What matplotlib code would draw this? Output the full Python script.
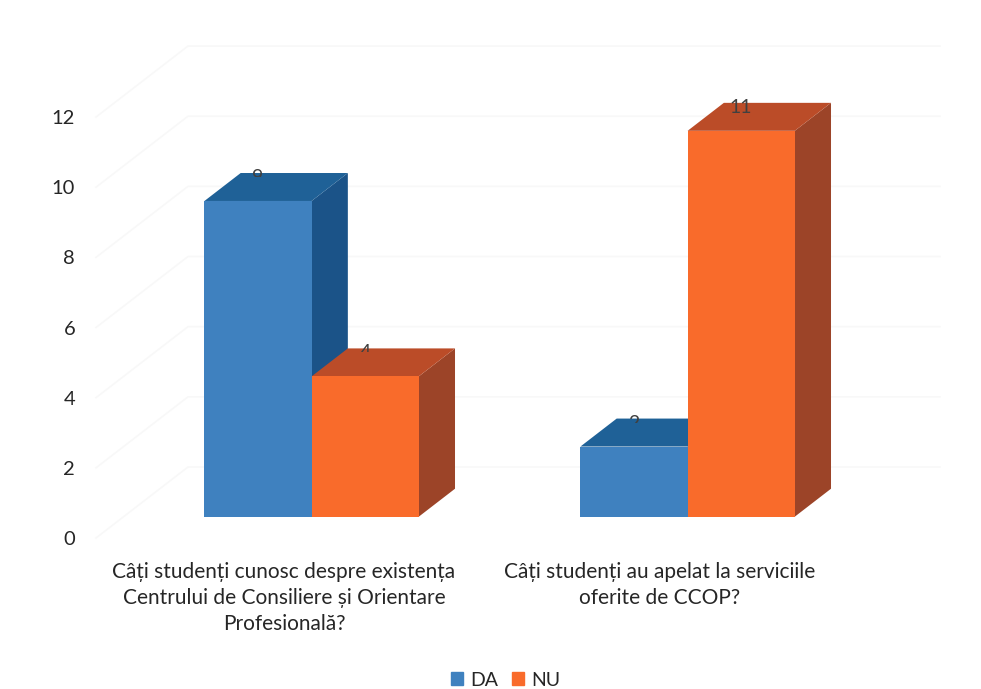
import matplotlib as mpl
mpl.use('Agg')
import matplotlib.pyplot as plt
from matplotlib.patches import Patch
from matplotlib.transforms import Bbox

categories = ['Câți studenți cunosc despre existența\nCentrului de Consiliere și Orientare\nProfesională?',
              'Câți studenți au apelat la serviciile\noferite de CCOP?']
da_values = [9, 2]
nu_values = [4, 11]
y_ticks = [0, 2, 4, 6, 8, 10, 12]

# front, top, side shades
da_colors = ['#3F81BF', '#1F6197', '#1B5388']
nu_colors = ['#F96B2B', '#BB4C28', '#9C4428']

W, H = 981, 689
plt.rcParams['font.family'] = ['Lato', 'DejaVu Sans']
text_color = '#262626'

fig = plt.figure(figsize=(W / 100, H / 100), dpi=100)
# axes box: front plane floor at pixel y 538, right end of back wall at x 940
ax = fig.add_axes([96 / W, (H - 538) / H, 844 / W, 493 / H])
ax.set_xlim(-0.5, -0.5 + 844 / 376)
ax.set_ylim(0, 493 / 35.08)
ax.patch.set_alpha(0)
for s in ax.spines.values():
    s.set_visible(False)

# oblique depth of the floor, in data units
DEPTH_X = 92 / 376
DEPTH_Y = 71 / 35.08
BAR_NEAR = 0.30
BAR_FAR = 0.694
BAR_W = 0.285
grid_color = '#f8f8f8'


def proj(x, y, d):
    return x + d * DEPTH_X, y + d * DEPTH_Y


def box(x0, x1, v, colors):
    # side, then top, then front so that later bars cover earlier ones
    corners = [proj(x1, 0, BAR_NEAR), proj(x1, 0, BAR_FAR), proj(x1, v, BAR_FAR), proj(x1, v, BAR_NEAR)]
    ax.fill(*zip(*corners), color=colors[2], lw=0, zorder=3)
    corners = [proj(x0, v, BAR_NEAR), proj(x1, v, BAR_NEAR), proj(x1, v, BAR_FAR), proj(x0, v, BAR_FAR)]
    ax.fill(*zip(*corners), color=colors[1], lw=0, zorder=3)
    corners = [proj(x0, 0, BAR_NEAR), proj(x1, 0, BAR_NEAR), proj(x1, v, BAR_NEAR), proj(x0, v, BAR_NEAR)]
    ax.fill(*zip(*corners), color=colors[0], lw=0, zorder=3)


def value_label(x0, x1, v):
    # the labels sit half behind the bar top, only the upper part shows
    lx = proj((x0 + x1) / 2, v, BAR_NEAR)[0]
    ly = proj(x0, v, BAR_FAR)[1]
    t = ax.annotate(str(v), (lx, ly), xytext=(0, -13), textcoords='offset pixels',
                    ha='center', va='bottom', fontsize=14, color='#404040', zorder=4)
    px, py = ax.transData.transform((lx, ly))
    # the two digit label is cut lower down than the others
    cut = 10 if v > 9 else 4
    t.set_clip_box(Bbox([[px - 30, py - cut], [px + 30, py + 30]]))
    t.set_clip_on(True)


for v in y_ticks:
    x1, y1 = proj(-0.5, v, 1)
    ax.plot([-0.5, x1, x1 + 2], [v, y1, y1], color=grid_color, lw=1.2, zorder=1, clip_on=False)

for i in range(len(categories)):
    box(i - BAR_W, i, da_values[i], da_colors)
    box(i, i + BAR_W, nu_values[i], nu_colors)
    value_label(i - BAR_W, i, da_values[i])
    value_label(i, i + BAR_W, nu_values[i])

ax.set_yticks(y_ticks)
ax.set_yticklabels([str(v) for v in y_ticks], fontsize=14.5, color=text_color)
ax.set_xticks(range(len(categories)))
ax.set_xticklabels(categories, fontsize=15, color=text_color, linespacing=1.4)
ax.tick_params(axis='y', length=0, pad=15)
ax.tick_params(axis='x', length=0, pad=17)

handles = [Patch(color=da_colors[0], label='DA'), Patch(color=nu_colors[0], label='NU')]
fig.legend(handles=handles, loc='center', bbox_to_anchor=(506 / W, (H - 680) / H), ncol=2,
           frameon=False, fontsize=14, handlelength=0.6, handleheight=0.65,
           handletextpad=0.4, columnspacing=0.7, labelcolor=text_color)

fig.savefig('out.png', dpi=100)
